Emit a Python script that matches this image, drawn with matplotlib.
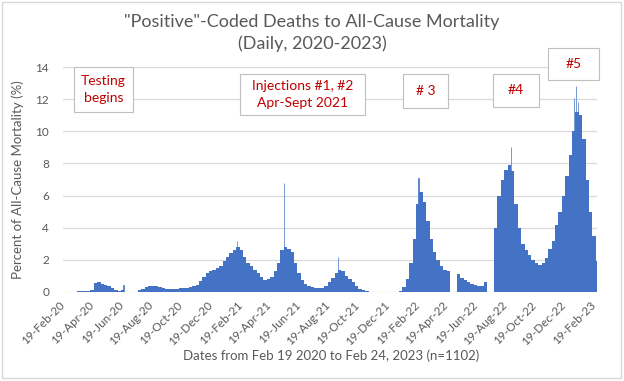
import matplotlib.pyplot as plt
import numpy as np
from matplotlib.patches import Rectangle

start_date = '2020-02-19'
n_days = 1102
weekly_pct = [
	0, 0, 0, 0.03, 0.05, 0.05, 0.06, 0.05, 0.15, 0.55,
	0.65, 0.5, 0.45, 0.4, 0.25, 0.1, 0.05, 0.15, 0.03, 0.01,
	0.01, 0.03, 0.1, 0.2, 0.3, 0.35, 0.4, 0.4, 0.3, 0.25,
	0.2, 0.2, 0.2, 0.2, 0.22, 0.22, 0.25, 0.3, 0.35, 0.45,
	0.7, 0.95, 1.2, 1.3, 1.4, 1.5, 1.6, 1.9, 2.2, 2.4,
	2.6, 2.8, 2.6, 2.2, 1.8, 1.6, 1.4, 1.2, 0.95, 0.75,
	0.8, 0.95, 1.3, 1.8, 2.6, 2.8, 2.7, 2.5, 1.8, 1.2,
	0.75, 0.5, 0.35, 0.3, 0.25, 0.25, 0.25, 0.35, 0.6, 0.85,
	1.2, 1.4, 1.3, 1.0, 0.8, 0.6, 0.4, 0.2, 0.1, 0.05,
	0.03, 0.02, 0.02, 0.02, 0.02, 0.02, 0.02, 0.02, 0.02, 0.05,
	0.3, 0.8, 1.8, 3.3, 5.5, 6.2, 5.6, 4.4, 3.3, 2.5,
	2.0, 1.6, 1.4, 1.3, 0, 0, 1.1, 0.9, 0.75, 0.6,
	0.5, 0.45, 0.4, 0.4, 0.6, 0, 0, 4.0, 6.0, 7.0,
	7.6, 7.9, 7.5, 5.5, 4.0, 3.0, 2.6, 2.3, 2.0, 1.8,
	1.7, 1.8, 2.1, 2.7, 3.2, 4.2, 5.0, 6.0, 7.2, 8.5,
	10.0, 11.2, 11.0, 9.5, 7.0, 5.0, 3.5, 1.9]

#single days that stick out above their week
spike_dates = ['2020-06-22', '2021-02-12', '2021-05-20', '2021-09-08', '2022-02-21',
	'2022-08-31', '2023-01-08', '2023-01-12', '2023-01-16']
spike_pct = [0.45, 3.2, 6.8, 2.2, 7.1, 9.0, 12.1, 12.8, 11.8]

tick_labels = ['19-Feb-20', '19-Apr-20', '19-Jun-20', '19-Aug-20', '19-Oct-20', '19-Dec-20',
	'19-Feb-21', '19-Apr-21', '19-Jun-21', '19-Aug-21', '19-Oct-21', '19-Dec-21',
	'19-Feb-22', '19-Apr-22', '19-Jun-22', '19-Aug-22', '19-Oct-22', '19-Dec-22', '19-Feb-23']

notes = ['Testing\nbegins', 'Injections #1, #2\nApr-Sept 2021', '# 3', '#4', '#5']


W, H = 624, 381
blue = '#4472C4'
grey = '#595959'
red = '#C00000'

plt.rcParams['font.family'] = ['Lato', 'DejaVu Sans']

fig = plt.figure(figsize=(W/100, H/100), dpi=100)
ax = fig.add_axes([63/W, 1-292/H, (597-63)/W, (292-67)/H])

#day offsets from the first date
t0 = np.datetime64(start_date)
def day_of(s):
	return int((np.datetime64(s) - t0).astype(int))

starts = np.arange(len(weekly_pct))*7
widths = np.minimum(7, n_days - starts)
ax.bar(starts, weekly_pct, width=widths, align='edge', color=blue, linewidth=0, zorder=2)

sd = [day_of(s) for s in spike_dates]
ax.bar(sd, spike_pct, width=1.2, color=blue, edgecolor=blue, linewidth=0.5, zorder=2)

#tick positions from the labels themselves
tick_days = [day_of(np.datetime64(str(np.datetime_as_string(np.datetime64(
	'20'+lab[-2:]+'-'+{'Feb':'02','Apr':'04','Jun':'06','Aug':'08','Oct':'10','Dec':'12'}[lab[3:6]]+'-19'))))) for lab in tick_labels]
ax.set_xticks(tick_days)
ax.set_xticklabels(tick_labels, rotation=45, ha='right', va='center', rotation_mode='anchor',
	fontsize=8.5, color=grey)
ax.tick_params(axis='x', length=0, pad=8)
ax.set_xlim(-0.5, n_days - 0.5)

ax.set_ylim(0, 14)
ax.set_yticks(np.arange(0, 15, 2))
ax.tick_params(axis='y', length=0, pad=10, labelsize=8.5, labelcolor=grey)
ax.grid(axis='y', color='#D9D9D9', linewidth=0.9, zorder=0)
for s in ax.spines.values():
	s.set_visible(False)

ax.set_ylabel('Percent of All-Cause Mortality (%)', fontsize=9.5, color=grey, labelpad=8)
fig.text(331/W, 1-356/H, 'Dates from Feb 19 2020 to Feb 24, 2023 (n=1102)', ha='center', va='center',
	fontsize=9.5, color=grey)

fig.text(312/W, 1-22/H, '"Positive"-Coded Deaths to All-Cause Mortality', ha='center', va='center',
	fontsize=13, color=grey)
fig.text(312/W, 1-44/H, '(Daily, 2020-2023)', ha='center', va='center', fontsize=13, color=grey)

#annotation boxes (left, top, right, bottom in pixels)
boxes = [(74, 67, 133, 112), (240, 74, 365, 115), (403, 74, 448, 108), (493, 74, 539, 107), (548, 48, 599, 80)]
for (x0, y0, x1, y1), txt in zip(boxes, notes):
	fig.patches.append(Rectangle((x0/W, 1-y1/H), (x1-x0)/W, (y1-y0)/H, transform=fig.transFigure,
		facecolor='white', edgecolor='#BFBFBF', linewidth=0.8, zorder=3))
	fig.text((x0+x1)/2/W, 1-(y0+y1)/2/H, txt, ha='center', va='center', fontsize=10, color=red,
		linespacing=1.5, zorder=4)

#chart border
fig.patches.append(Rectangle((2/W, 1-378/H), 619/W, 376/H, transform=fig.transFigure,
	facecolor='none', edgecolor='#D9D9D9', linewidth=1, zorder=5))

fig.savefig('out.png', dpi=100)
